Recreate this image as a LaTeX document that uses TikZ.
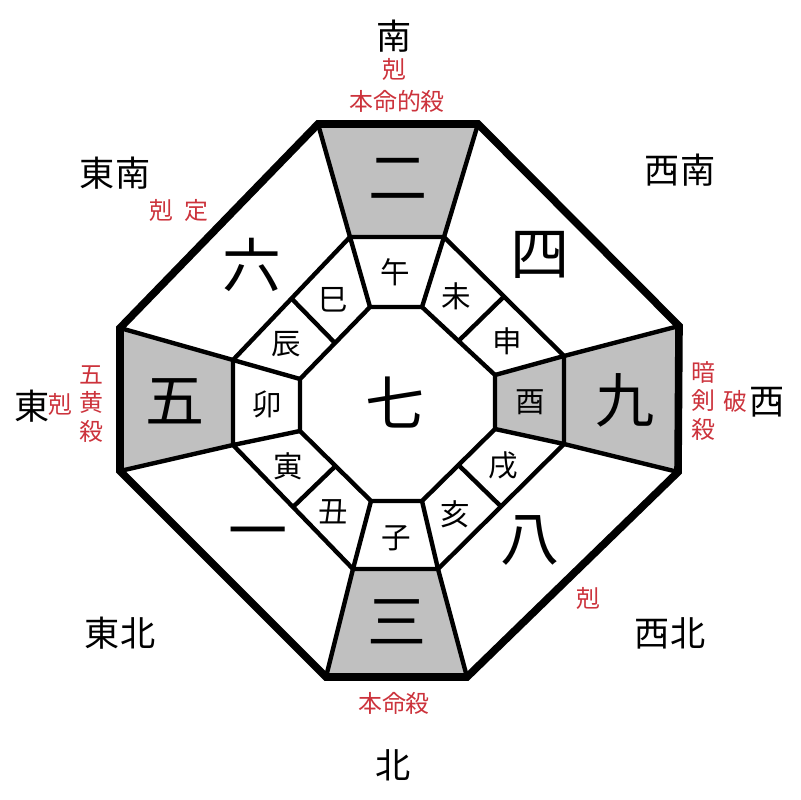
\documentclass[tikz,border=0pt]{standalone}
\usepackage{fontspec}
\usepackage{xcolor}
\usetikzlibrary{calc}
\newfontfamily\jfont{Noto Sans CJK JP}
\definecolor{kred}{RGB}{204, 51, 60}
\definecolor{kgray}{RGB}{192, 192, 192}

\tikzset{
  dirlbl/.style = {inner sep=0pt, font=\jfont\fontsize{25}{25}\selectfont},
  numlbl/.style = {inner sep=0pt, font=\jfont\fontsize{42}{42}\selectfont},
  zodlbl/.style = {inner sep=0pt, font=\jfont\fontsize{21}{21}\selectfont},
  redlbl/.style = {inner sep=0pt, kred, align=center, font=\jfont\fontsize{17}{20.5}\selectfont},
}

\begin{document}
\begin{tikzpicture}[x=0.025cm, y=-0.025cm]

  \useasboundingbox (0,0) rectangle (800,800);

  % octagon corners, pixels from the top left
  \foreach \x/\y [count=\k] in {318/124, 478/124, 679/326, 678/472, 467/677, 326/677, 120/471, 120/328}
    \coordinate (O\k) at (\x,\y);
  \foreach \x/\y [count=\k] in {350/237, 444/237, 564/356, 564/444, 438/569, 353/569, 233/445, 233/360}
    \coordinate (M\k) at (\x,\y);
  \foreach \x/\y [count=\k] in {370/307, 422/307, 495/375, 495/429, 422/501, 371/501, 300/431, 300/379}
    \coordinate (I\k) at (\x,\y);

  \fill[kgray] (O1) -- (O2) -- (M2) -- (M1) -- cycle;
  \fill[kgray] (O3) -- (O4) -- (M4) -- (M3) -- cycle;
  \fill[kgray] (O5) -- (O6) -- (M6) -- (M5) -- cycle;
  \fill[kgray] (O7) -- (O8) -- (M8) -- (M7) -- cycle;
  \fill[kgray] (M3) -- (M4) -- (I4) -- (I3) -- cycle;

  \begin{scope}[line width=0.11cm]
    \draw (I1) -- (I2) -- (I3) -- (I4) -- (I5) -- (I6) -- (I7) -- (I8) -- cycle;
    \draw (M1) -- (M2) -- (M3) -- (M4) -- (M5) -- (M6) -- (M7) -- (M8) -- cycle;
    \foreach \k in {1,...,8}
      \draw (I\k) -- (M\k) -- (O\k);
    \foreach \a/\b in {2/3,4/5,6/7,8/1}
      \draw ($(I\a)!0.5!(I\b)$) -- ($(M\a)!0.5!(M\b)$);
  \end{scope}
  \draw[line width=0.19cm] (O1) -- (O2) -- (O3) -- (O4) -- (O5) -- (O6) -- (O7) -- (O8) -- cycle;

  % stars
  \node[numlbl] (n7) at (395,403) {七};
  \node[numlbl] (n2) at (398,179) {二};
  \node[numlbl] (n4) at (540,255) {四};
  \node[numlbl] (n9) at (625,400) {九};
  \node[numlbl] (n8) at (530,540) {八};
  \node[numlbl] (n3) at (397,622) {三};
  \node[numlbl] (n1) at (258,540) {一};
  \node[numlbl] (n5) at (175,401) {五};
  \node[numlbl] (n6) at (252,265) {六};

  % twelve branches
  \foreach \t/\x/\y [count=\k] in {午/395/272, 未/456/296, 申/507/341, 酉/530/402,
      戌/503/466, 亥/455/514, 子/396/538, 丑/333/512, 寅/288/466, 卯/267/404, 辰/286/344, 巳/333/300}
    \node[zodlbl] (z\k) at (\x,\y) {\t};

  % directions
  \node[dirlbl] (south) at (394,36) {南};
  \node[dirlbl] (north) at (393,765) {北};
  \node[dirlbl] (east) at (32,406) {東};
  \node[dirlbl] (west) at (767,402) {西};
  \node[dirlbl] (se) at (115,173) {東南};
  \node[dirlbl] (sw) at (680,170) {西南};
  \node[dirlbl] (ne) at (120,633) {東北};
  \node[dirlbl] (nw) at (670,633) {西北};

  % notes
  \node[redlbl] (rs1) at (394,69) {剋};
  \node[redlbl] (rs2) at (397,101) {本命的殺};
  \node[redlbl] (rse1) at (161,210) {剋};
  \node[redlbl] (rse2) at (196,210) {定};
  \node[redlbl] (re1) at (60,404) {剋};
  \node[redlbl] (re2) at (91,404) {五\\黄\\殺};
  \node[redlbl] (rw1) at (703,401) {暗\\剣\\殺};
  \node[redlbl] (rw2) at (735,401) {破};
  \node[redlbl] (rnw) at (588,598) {剋};
  \node[redlbl] (rn) at (394,703) {本命殺};

\end{tikzpicture}
\end{document}
